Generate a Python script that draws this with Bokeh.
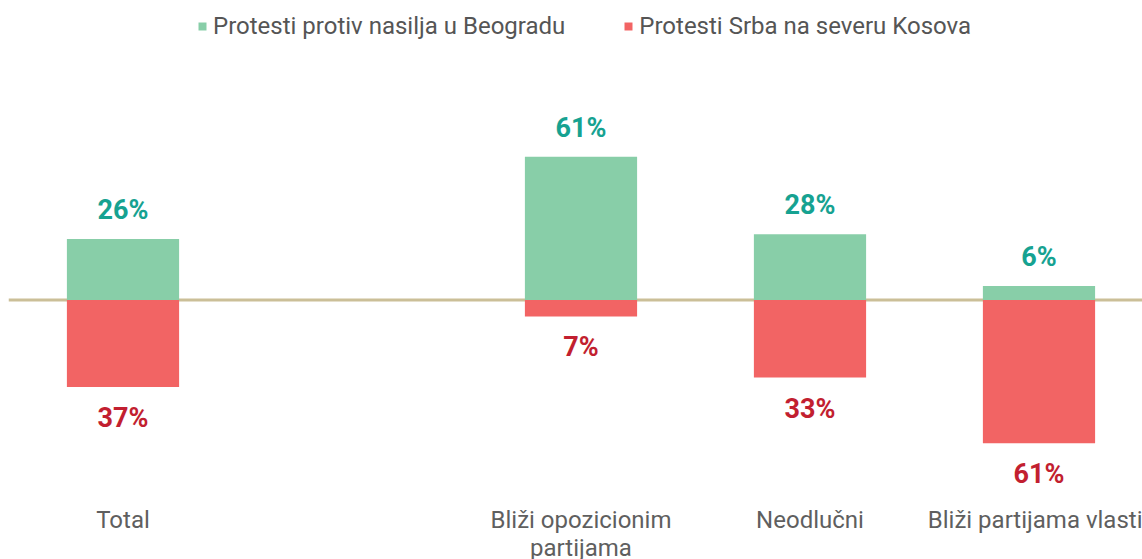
from bokeh.plotting import figure
from bokeh.models import ColumnDataSource, Span, Legend, LegendItem, FixedTicker
from bokeh.core.properties import value
from bokeh.embed import file_html
from bokeh.resources import INLINE

categories = ["Total", "", "Bliži opozicionim\npartijama", "Neodlučni", "Bliži partijama vlasti"]
belgrade = [26, None, 61, 28, 6]   # Protesti protiv nasilja u Beogradu
kosovo = [37, None, 7, 33, 61]     # Protesti Srba na severu Kosova
series_names = ["Protesti protiv nasilja u Beogradu", "Protesti Srba na severu Kosova"]

GREEN = "#88cea8"
RED = "#f26464"
GREEN_TXT = "#16a291"
RED_TXT = "#c21f30"
FONT = "Roboto"

idx = [i for i, v in enumerate(belgrade) if v is not None]
g_vals = [belgrade[i] for i in idx]
r_vals = [kosovo[i] for i in idx]

src = ColumnDataSource(dict(
    x=idx,
    g=g_vals,
    r=[-v for v in r_vals],
    gl=[f"{v}%" for v in g_vals],
    rl=[f"{v}%" for v in r_vals],
))

p = figure(frame_width=1134, frame_height=485, output_backend="svg", toolbar_location=None,
           x_range=(-0.5, 4.452), y_range=(-82.34, 124.04),
           min_border_left=8, min_border_right=0, min_border_top=8, min_border_bottom=0)
p.outline_line_color = None
p.background_fill_color = "white"
p.border_fill_color = "white"
p.xgrid.visible = False
p.ygrid.visible = False
p.yaxis.visible = False

zero = Span(location=0, dimension="width", line_color="#cbbf98", line_width=3, level="underlay")
p.add_layout(zero)

rg = p.vbar(x="x", top="g", bottom=0, width=0.49, source=src, fill_color=GREEN, line_color=None)
rr = p.vbar(x="x", top=0, bottom="r", width=0.49, source=src, fill_color=RED, line_color=None)

p.text(x="x", y="g", text="gl", source=src, y_offset=-29, text_align="center", text_baseline="middle",
       text_font=value(FONT), text_font_style="bold", text_font_size="27px", text_color=GREEN_TXT)
p.text(x="x", y="r", text="rl", source=src, y_offset=31, text_align="center", text_baseline="middle",
       text_font=value(FONT), text_font_style="bold", text_font_size="27px", text_color=RED_TXT)

ax = p.xaxis[0]
ax.ticker = FixedTicker(ticks=list(range(len(categories))))
ax.major_label_overrides = {i: c for i, c in enumerate(categories)}
ax.axis_line_color = None
ax.major_tick_line_color = None
ax.minor_tick_line_color = None
ax.major_label_text_font = FONT
ax.major_label_text_font_size = "24px"
ax.major_label_text_color = "#5f5f5f"
ax.major_label_text_line_height = 1.0
ax.major_label_standoff = 6

legend = Legend(items=[LegendItem(label=series_names[0], renderers=[rg]),
                       LegendItem(label=series_names[1], renderers=[rr])],
                orientation="horizontal", location=(189, 453))
legend.glyph_width = 10
legend.glyph_height = 10
legend.label_standoff = 6
legend.spacing = 58
legend.label_text_font = FONT
legend.label_text_font_size = "24px"
legend.label_text_color = "#555555"
legend.border_line_color = None
legend.background_fill_alpha = 0
legend.margin = 0
legend.padding = 6
p.add_layout(legend)

open("out.html", "w").write(file_html(p, INLINE))
